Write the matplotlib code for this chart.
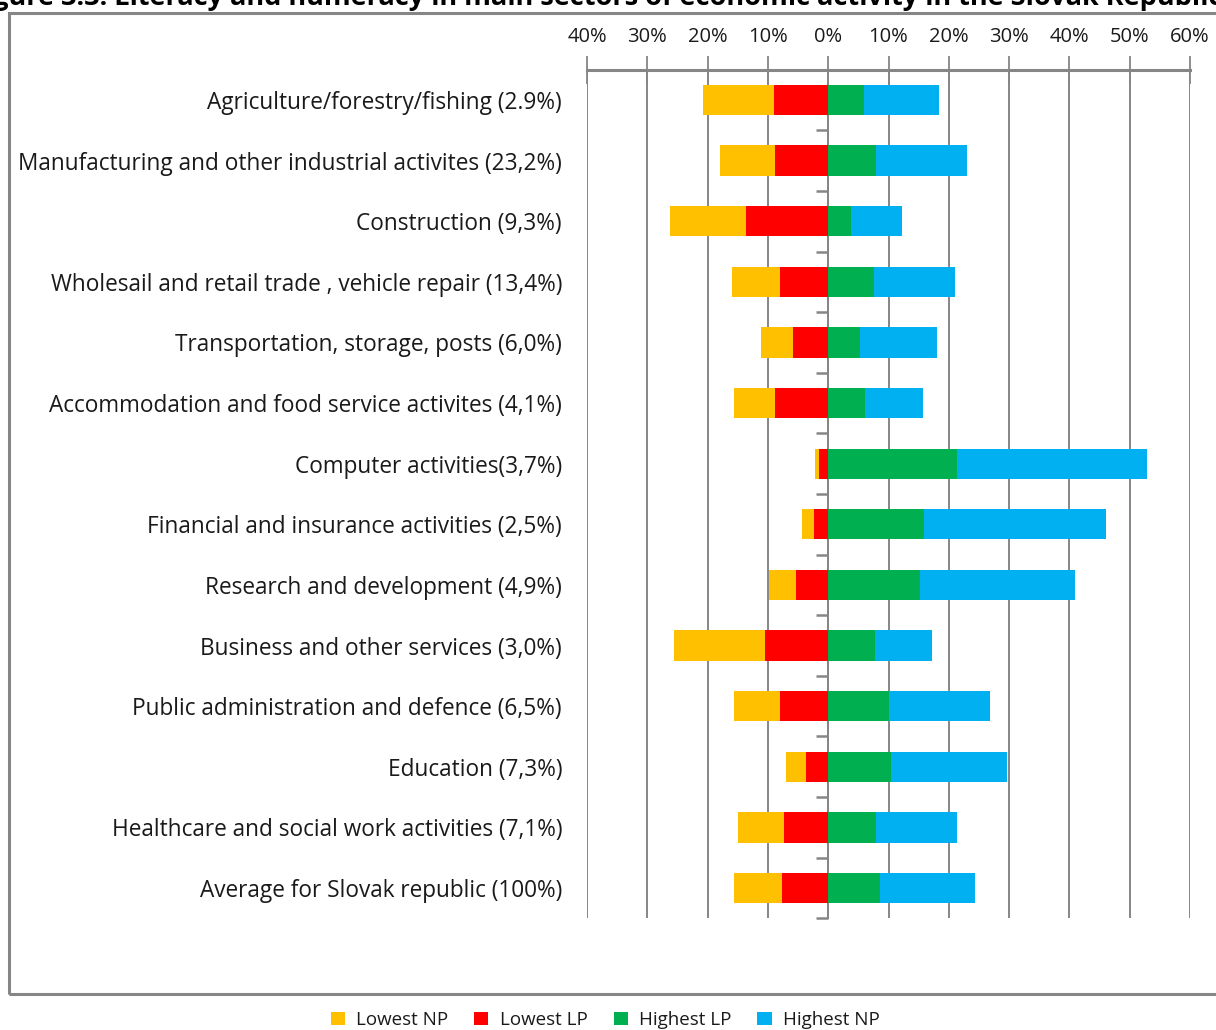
import matplotlib
matplotlib.use("Agg")
import matplotlib.pyplot as plt
from matplotlib.patches import Rectangle, Patch
import numpy as np

plt.rcParams['font.family'] = ['Open Sans', 'DejaVu Sans']

categories = [
    "Agriculture/forestry/fishing (2.9%)",
    "Manufacturing and other industrial activites (23,2%)",
    "Construction (9,3%)",
    "Wholesail and retail trade , vehicle repair (13,4%)",
    "Transportation, storage, posts (6,0%)",
    "Accommodation and food service activites (4,1%)",
    "Computer activities(3,7%)",
    "Financial and insurance activities (2,5%)",
    "Research and development (4,9%)",
    "Business and other services (3,0%)",
    "Public administration and defence (6,5%)",
    "Education (7,3%)",
    "Healthcare and social work activities (7,1%)",
    "Average for Slovak republic (100%)",
]
# segment lengths in percent (left side drawn as negative)
lowest_lp = [9.0, 8.9, 13.7, 8.0, 5.9, 8.8, 1.5, 2.3, 5.3, 10.5, 8.0, 3.7, 7.4, 7.7]
lowest_np = [11.7, 9.0, 12.6, 8.0, 5.3, 6.9, 0.7, 2.0, 4.5, 15.0, 7.7, 3.3, 7.5, 8.0]
highest_lp = [5.9, 7.9, 3.8, 7.6, 5.3, 6.1, 21.3, 15.9, 15.2, 7.8, 10.1, 10.4, 7.9, 8.6]
highest_np = [12.4, 15.2, 8.4, 13.5, 12.8, 9.6, 31.5, 30.1, 25.7, 9.4, 16.7, 19.2, 13.4, 15.7]
series_names = ["Lowest NP", "Lowest LP", "Highest LP", "Highest NP"]
colors = ["#FFC000", "#FF0000", "#00B050", "#00B0F0"]
xticks = [-40, -30, -20, -10, 0, 10, 20, 30, 40, 50, 60]
xtick_labels = ["40%", "30%", "20%", "10%", "0%", "10%", "20%", "30%", "40%", "50%", "60%"]

W, H = 1216, 1030
fig = plt.figure(figsize=(W / 100, H / 100), dpi=100)
ax = fig.add_axes([587 / W, 1 - 918.3 / H, (1190 - 587) / W, (918.3 - 69.7) / H])

y = np.arange(len(categories))
llp = -np.array(lowest_lp)
lnp = -np.array(lowest_np)
hlp = np.array(highest_lp)
hnp = np.array(highest_np)
h = 0.5
ax.barh(y, llp, height=h, color=colors[1], zorder=3)
ax.barh(y, lnp, left=llp, height=h, color=colors[0], zorder=3)
ax.barh(y, hlp, height=h, color=colors[2], zorder=3)
ax.barh(y, hnp, left=hlp, height=h, color=colors[3], zorder=3)

ax.set_xlim(-40, 60)
ax.set_ylim(len(categories) - 0.5, -0.5)
ax.set_xticks(xticks)
ax.set_xticklabels(xtick_labels)
gray = "#868686"
ax.xaxis.tick_top()
ax.tick_params(axis='x', which='major', direction='inout', length=20, width=1.3,
               color=gray, labelsize=14.5, pad=6, labelcolor='#1a1a1a')
ax.grid(axis='x', color=gray, linewidth=1.4, zorder=0)
for s in ['right', 'bottom', 'left']:
    ax.spines[s].set_visible(False)
ax.spines['top'].set_color(gray)
ax.spines['top'].set_linewidth(2.2)

ax.set_yticks(y)
ax.set_yticklabels(categories)
ax.tick_params(axis='y', length=0, pad=18, labelsize=16.3, labelcolor='#1a1a1a')

# category-axis at zero with tick marks between categories
sec = ax.secondary_yaxis(0.4)
sec.set_yticks(np.arange(len(categories) + 1) - 0.5)
sec.set_yticklabels([])
sec.tick_params(axis='y', direction='out', length=9, width=1.8, color=gray)
sec.spines['left'].set_color(gray)
sec.spines['left'].set_linewidth(1.4)

# outer chart border
fig.patches.append(Rectangle((9 / W, 1 - 994 / H), 1.2, (994 - 13) / H,
                             transform=fig.transFigure, fill=False,
                             edgecolor=gray, linewidth=2.2, zorder=0))

# title (cut off at the top in the reference)
fig.text(-30 / W, 1 - 5 / H,
         "Figure 3.3: Literacy and numeracy in main sectors of economic activity in the Slovak Republic",
         fontsize=19.5, fontweight='bold', ha='left', va='baseline', color='black')

handles = [Patch(facecolor=c, edgecolor='none') for c in colors]
fig.legend(handles, series_names, loc='center', bbox_to_anchor=(605 / W, 1 - 1020 / H),
           ncol=4, frameon=False, fontsize=13.5, handlelength=0.75, handleheight=0.75,
           handletextpad=0.6, columnspacing=1.4, labelcolor='#1a1a1a')

fig.savefig("out.png", dpi=100)
